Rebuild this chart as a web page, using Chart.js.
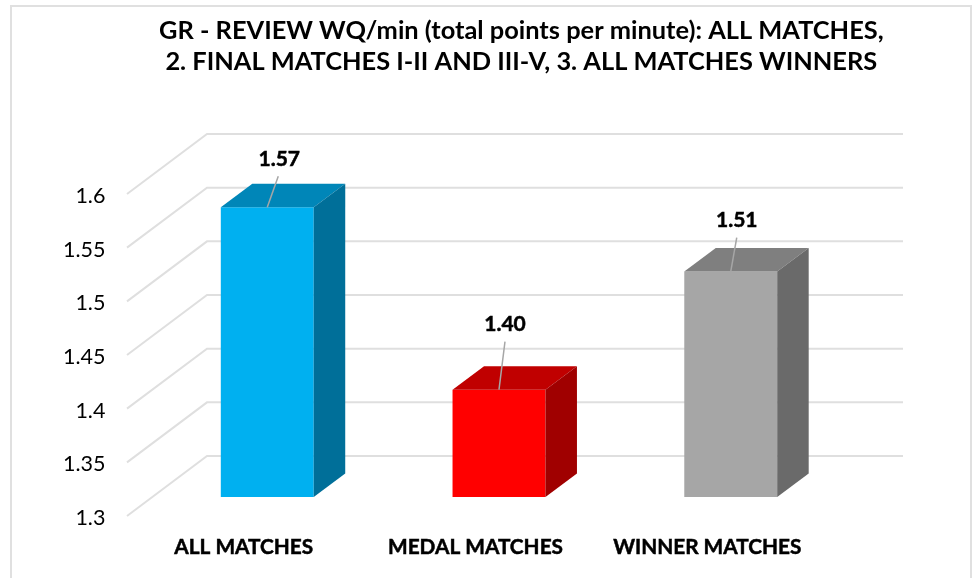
<!DOCTYPE html>
<html>
<head>
<meta charset="utf-8">
<style>
  html, body { margin: 0; padding: 0; background: #fff; }
  #wrap { width: 975px; height: 578px; }
</style>
<script src="https://cdn.jsdelivr.net/npm/chart.js@4"></script>
</head>
<body>
<div id="wrap"><canvas id="chart" width="975" height="578"></canvas></div>
<script>
const titleLines = [
    'GR - REVIEW WQ/min (total points per minute): ALL MATCHES,',
    '2. FINAL MATCHES I-II AND III-V, 3. ALL MATCHES WINNERS'
];
const categories = ['ALL MATCHES', 'MEDAL MATCHES', 'WINNER MATCHES'];
const values = [1.57, 1.40, 1.51];
const valueLabels = ['1.57', '1.40', '1.51'];
const yTicks = [1.3, 1.35, 1.4, 1.45, 1.5, 1.55, 1.6];
const frontColors = ['#00B0F0', '#FF0000', '#A6A6A6'];
const topColors = ['#0086B8', '#C00000', '#7F7F7F'];
const sideColors = ['#006F99', '#A00000', '#6A6A6A'];

const FONT = 'Lato, Carlito, sans-serif';

// fake 3D: walls and bar faces are drawn around the real bars
const frontShift = { x: -24.4, y: 19 };
const backShift = { x: 55.6, y: -41 };
const barDepth = { x: 31.5, y: -23.5 };
// [label dx, label dy, leader end dx, leader end dy] from the top centre of the bar
const leaderOffsets = [[12, -48, 11, -31], [6, -65, 6, -48], [6, -51, 6, -34]];

const polygon = (ctx, pts, color) => {
    ctx.fillStyle = color;
    ctx.beginPath();
    pts.forEach((p, i) => (i ? ctx.lineTo(p[0], p[1]) : ctx.moveTo(p[0], p[1])));
    ctx.closePath();
    ctx.fill();
};

const fake3d = {
    id: 'fake3d',
    afterLayout(chart) {
        // title is centred over the whole plot including the wall, not the bars
        chart.titleBlock.left += 98;
        chart.titleBlock.right += 98;
    },
    beforeDraw(chart) {
        const { ctx } = chart;
        ctx.save();
        ctx.strokeStyle = '#E0E0E0';
        ctx.lineWidth = 2;
        ctx.beginPath();
        ctx.moveTo(11, 578);
        ctx.lineTo(11, 6);
        ctx.lineTo(971, 6);
        ctx.lineTo(971, 578);
        ctx.stroke();
        ctx.restore();
    },
    beforeDatasetsDraw(chart) {
        const { ctx, chartArea, scales } = chart;
        ctx.save();
        ctx.strokeStyle = '#DFDFDF';
        ctx.lineWidth = 2;
        yTicks.forEach(v => {
            const y = scales.y.getPixelForValue(v);
            ctx.beginPath();
            ctx.moveTo(chartArea.left + frontShift.x, y + frontShift.y);
            ctx.lineTo(chartArea.left + backShift.x, y + backShift.y);
            ctx.lineTo(chartArea.right + backShift.x + 0.8, y + backShift.y);
            ctx.stroke();
        });
        ctx.restore();
    },
    afterDatasetsDraw(chart) {
        const { ctx } = chart;
        const bars = chart.getDatasetMeta(0).data;
        ctx.save();
        bars.forEach((bar, i) => {
            const half = bar.width / 2;
            const l = bar.x - half, r = bar.x + half;
            const t = bar.y, b = bar.base;
            const dx = barDepth.x, dy = barDepth.y;
            polygon(ctx, [[l, t], [r, t], [r + dx, t + dy], [l + dx, t + dy]], topColors[i]);
            polygon(ctx, [[r, t], [r + dx, t + dy], [r + dx, b + dy], [r, b]], sideColors[i]);

            const off = leaderOffsets[i];
            ctx.strokeStyle = '#A6A6A6';
            ctx.lineWidth = 1.5;
            ctx.beginPath();
            ctx.moveTo(bar.x, t);
            ctx.lineTo(bar.x + off[2], t + off[3]);
            ctx.stroke();

            ctx.fillStyle = '#000';
            ctx.strokeStyle = '#000';
            ctx.lineWidth = 0.5;
            ctx.font = 'bold 21px ' + FONT;
            ctx.textAlign = 'center';
            ctx.textBaseline = 'middle';
            ctx.fillText(valueLabels[i], bar.x + off[0], t + off[1]);
            ctx.strokeText(valueLabels[i], bar.x + off[0], t + off[1]);
        });
        ctx.restore();
    }
};

new Chart(document.getElementById('chart'), {
    type: 'bar',
    data: {
        labels: categories,
        datasets: [{
            data: values,
            base: 1.3,
            backgroundColor: frontColors,
            borderWidth: 0,
            barPercentage: 0.401,
            categoryPercentage: 1
        }]
    },
    plugins: [fake3d],
    options: {
        responsive: false,
        animation: false,
        layout: { padding: { left: 0, right: 128.4, top: 0, bottom: 0 } },
        plugins: {
            legend: { display: false },
            tooltip: { enabled: false },
            title: {
                display: true,
                text: titleLines,
                color: '#000',
                font: { family: FONT, size: 25.4, weight: 'bold', lineHeight: 1.25 },
                padding: { top: 14.5, bottom: 97 }
            }
        },
        scales: {
            x: {
                grid: { display: false },
                border: { display: false },
                afterFit(scale) { scale.height = 81; },
                ticks: {
                    color: '#000',
                    font: { family: FONT, size: 20.8, weight: 'bold' },
                    textStrokeColor: '#000',
                    textStrokeWidth: 0.5,
                    padding: 30,
                    labelOffset: -23.5,
                    maxRotation: 0,
                    autoSkip: false
                }
            },
            y: {
                min: 1.3,
                max: 1.6,
                grid: { display: false },
                border: { display: false },
                afterFit(scale) { scale.width = 151.4; },
                afterBuildTicks(scale) { scale.ticks = yTicks.map(value => ({ value })); },
                ticks: {
                    color: '#000',
                    font: { family: FONT, size: 21.5 },
                    padding: 38,
                    labelOffset: 21,
                    callback: value => String(+value.toFixed(2))
                }
            }
        }
    }
});
</script>
</body>
</html>
